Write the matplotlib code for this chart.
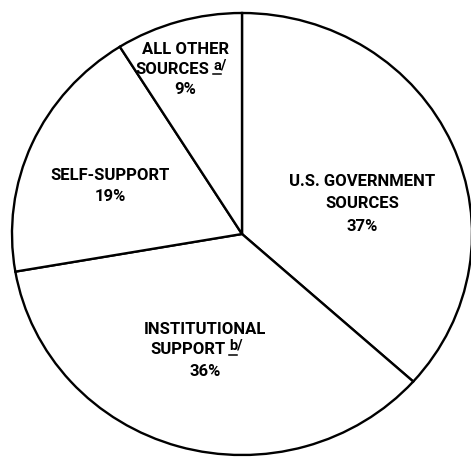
import matplotlib
matplotlib.use("Agg")
import matplotlib.pyplot as plt
from matplotlib.lines import Line2D

categories = ["U.S. GOVERNMENT\nSOURCES", "INSTITUTIONAL\nSUPPORT", "SELF-SUPPORT", "ALL OTHER\nSOURCES"]
shares = [37, 36, 19, 9]
pct_labels = ["37%", "36%", "19%", "9%"]

W, H = 471, 457
fig = plt.figure(figsize=(W / 100, H / 100), dpi=100)
ax = fig.add_axes([0, 0, 1, 1])

cx, cy, rx, ry = 242, 234, 230, 221
ax.pie(shares, startangle=90, counterclock=False, radius=1,
       colors=["white"] * len(shares),
       wedgeprops=dict(edgecolor="black", linewidth=1.7))
ax.set_aspect("auto")
ax.set_xlim(-cx / rx, (W - cx) / rx)
ax.set_ylim(-(H - cy) / ry, cy / ry)
ax.axis("off")

FONT = ["Roboto", "Liberation Sans", "DejaVu Sans"]
FS = 12


def fx(px):
    return px / W


def fy(py):
    return 1 - py / H


def txt(px, py, s, ha="center", size=FS):
    fig.text(fx(px), fy(py), s, ha=ha, va="center", fontsize=size,
             fontweight="bold", family=FONT, color="black")


def underline(x0, x1, py):
    fig.add_artist(Line2D([fx(x0), fx(x1)], [fy(py), fy(py)],
                          transform=fig.transFigure, color="black", lw=1.1))


# U.S. Government
g1, g2 = categories[0].split("\n")
txt(362, 182, g1)
txt(362, 204, g2)
txt(362, 226, pct_labels[0])

# Institutional
i1, i2 = categories[1].split("\n")
txt(205, 329, i1)
txt(226, 350, i2, ha="right")
txt(229, 346, "b/", ha="left", size=10.5)
underline(229, 237, 355)
txt(205, 371, pct_labels[1])

# Self-support
txt(110, 176, categories[2])
txt(110, 197, pct_labels[2])

# All other
o1, o2 = categories[3].split("\n")
txt(185, 49, o1)
txt(209, 69, o2, ha="right")
txt(213, 65, "a/", ha="left", size=10.5)
underline(213, 221, 74)
txt(185, 90, pct_labels[3])

fig.savefig("out.png", dpi=100, facecolor="white")
